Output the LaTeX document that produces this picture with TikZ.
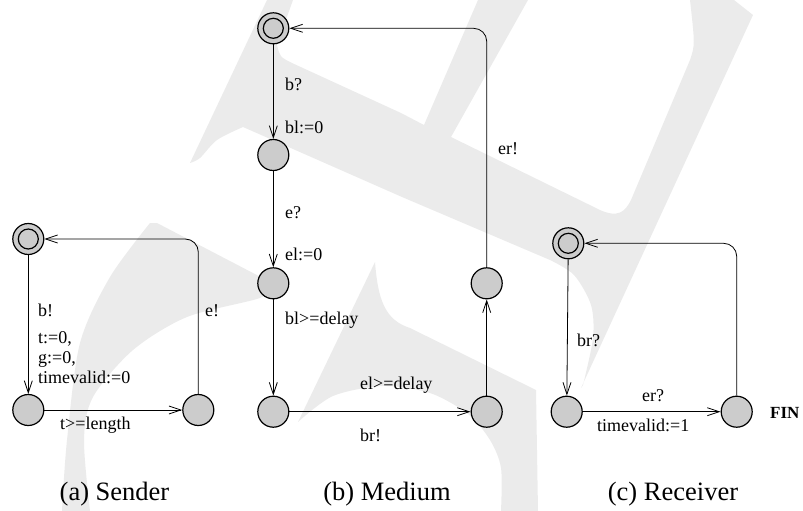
\documentclass[tikz,border=0pt]{standalone}
\usepackage{fontspec}
\setmainfont{Liberation Serif}
\usetikzlibrary{arrows.meta}
\definecolor{wm}{RGB}{235,235,235}
\definecolor{statefill}{RGB}{204,204,204}
\tikzset{
  state/.style={circle, draw, line width=1.2pt, fill=statefill,
    minimum size=31pt, inner sep=0pt},
  initstate/.style={state, path picture={
    \draw[line width=1.2pt] (path picture bounding box.center) circle (10pt);}},
  edge/.style={line width=0.8pt,
    -{Straight Barb[length=12pt,width=8pt,line width=0.8pt]}},
  loopedge/.style={edge, rounded corners=13pt},
  lbl/.style={anchor=base west, inner sep=0pt,
    font=\fontsize{18}{20}\selectfont},
  boldlbl/.style={lbl, font=\fontsize{17}{20}\selectfont\bfseries},
  caption/.style={anchor=base, inner sep=0pt,
    font=\fontsize{26.5}{30}\selectfont},
}
\begin{document}
\begin{tikzpicture}[x=1pt, y=-1pt]
\useasboundingbox (0,0) rectangle (803,511);

% background logo
\fill[wm, even odd rule]
  (267,0) -- (734,0) -- (753,15) -- (581,388)
  -- plot[smooth] coordinates {(583,385) (593,338) (591,305) (574,275) (550,260)}
  -- (402,197) -- (243,127)
  -- plot[smooth] coordinates {(243,127) (217,140) (200,158) (190,163)} -- cycle
  (293,0) -- (478,0) -- (424,125) -- (401,113) -- (292,63)
  .. controls (280,57) .. (277,45) -- cycle
  (528,0) -- (451,137) -- (600,210) .. controls (618,218) and (625,212) .. (631,200)
  -- (690,60) .. controls (695,45) .. (690,0) -- cycle;
\fill[wm]
  plot[smooth] coordinates {(150,223) (110,277) (80,343) (67,440) (62,511)}
  -- (90,511)
  -- plot[smooth] coordinates {(90,511) (84,440) (93,397) (133,350) (187,317) (260,298) (276,285)}
  -- (157,223) -- cycle;
\fill[wm]
  (375,262) .. controls (378,300) and (385,320) .. (410,328) -- (536,390)
  -- (538,511) -- (501,511)
  -- plot[smooth] coordinates {(501,511) (501,468) (490,440) (468,414) (430,393) (383,386) (333,396) (298,422)}
  -- cycle;

% (a) Sender
\node[initstate] (s0) at (28.3,239) {};
\node[state] (s1) at (28.3,410) {};
\node[state] (s2) at (198.3,410) {};
\draw[edge] (s0) -- (s1);
\draw[edge] (s1) -- (s2);
\draw[loopedge] (s2) |- (s0);
\node[lbl] (lb) at (38,316) {b!};
\node[lbl] (lt) at (38,343) {t:=0,};
\node[lbl] (lg) at (38,363) {g:=0,};
\node[lbl] (ltv) at (38,383) {timevalid:=0};
\node[lbl] (le) at (205,316) {e!};
\node[lbl] (lleng) at (60,429) {t>=length};

% (b) Medium
\node[initstate] (m0) at (273.3,28.3) {};
\node[state] (m1) at (273.3,155) {};
\node[state] (m2) at (273.3,283.3) {};
\node[state] (m3) at (273.3,411.7) {};
\node[state] (m4) at (486.7,411.7) {};
\node[state] (m5) at (486.7,283.3) {};
\draw[edge] (m0) -- (m1);
\draw[edge] (m1) -- (m2);
\draw[edge] (m2) -- (m3);
\draw[edge] (m3) -- (m4);
\draw[edge] (m4) -- (m5);
\draw[loopedge] (m5) |- (m0);
\node[lbl] (lbq) at (285,91) {b?};
\node[lbl] (lbl0) at (285,133) {bl:=0};
\node[lbl] (leq) at (285,218) {e?};
\node[lbl] (lel0) at (285,260) {el:=0};
\node[lbl] (lbld) at (285,324) {bl>=delay};
\node[lbl] (leld) at (360,389) {el>=delay};
\node[lbl] (lbr) at (360,441) {br!};
\node[lbl] (ler) at (498,154) {er!};

% (c) Receiver
\node[initstate] (r0) at (568.3,243.3) {};
\node[state] (r1) at (566.7,411.7) {};
\node[state] (r2) at (736.7,411.7) {};
\draw[edge] (r0) -- (r1);
\draw[edge] (r1) -- (r2);
\draw[loopedge] (r2) |- (r0);
\node[lbl] (lbrq) at (577,346) {br?};
\node[lbl] (lerq) at (642,401) {er?};
\node[lbl] (ltv1) at (597,431) {timevalid:=1};
\node[boldlbl] (lfin) at (770,418) {FIN};

% sub-captions
\node[caption] (ca) at (114.5,500) {(a) Sender};
\node[caption] (cb) at (387,500) {(b) Medium};
\node[caption] (cc) at (673,500) {(c) Receiver};
\end{tikzpicture}
\end{document}
